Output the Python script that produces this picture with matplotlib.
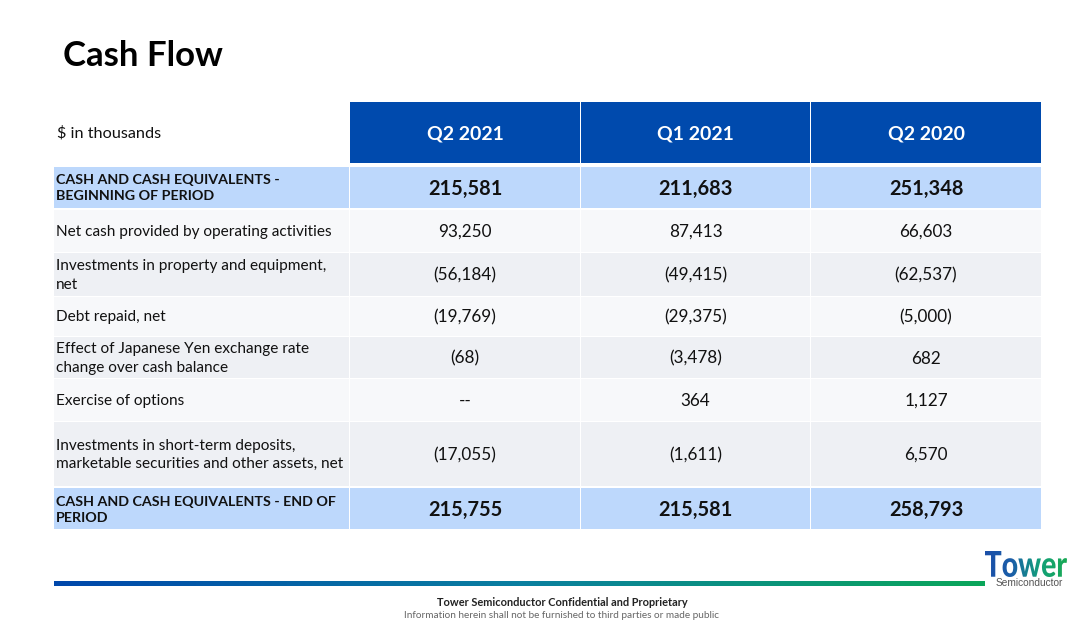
import numpy as np
import matplotlib
matplotlib.use("Agg")
import matplotlib.pyplot as plt
from matplotlib.patches import Rectangle, PathPatch
from matplotlib.textpath import TextPath
from matplotlib.font_manager import FontProperties
from matplotlib.colors import LinearSegmentedColormap
import matplotlib.transforms as mtransforms

plt.rcParams['font.family'] = ['Lato', 'DejaVu Sans']

# table data ($ in thousands)
periods = ["Q2 2021", "Q1 2021", "Q2 2020"]
row_labels = [
    "CASH AND CASH EQUIVALENTS -\nBEGINNING OF PERIOD",
    "Net cash provided by operating activities",
    "Investments in property and equipment,\nnet",
    "Debt repaid, net",
    "Effect of Japanese Yen exchange rate\nchange over cash balance",
    "Exercise of options",
    "Investments in short-term deposits,\nmarketable securities and other assets, net",
    "CASH AND CASH EQUIVALENTS - END OF\nPERIOD",
]
q2_2021 = [215581, 93250, -56184, -19769, -68, None, -17055, 215755]
q1_2021 = [211683, 87413, -49415, -29375, -3478, 364, -1611, 215581]
q2_2020 = [251348, 66603, -62537, -5000, 682, 1127, 6570, 258793]
total_rows = [0, 7]


def fmt(v):
    if v is None:
        return "--"
    if v < 0:
        return f"({-v:,})"
    return f"{v:,}"


W, H = 1080, 625
fig = plt.figure(figsize=(W / 100, H / 100), dpi=100)
ax = fig.add_axes([0, 0, 1, 1])
ax.set_xlim(0, W)
ax.set_ylim(H, 0)
ax.axis('off')

# title
ax.text(63, 56, "Cash Flow", fontsize=25, fontweight='bold', color='#000000',
        va='center', ha='left')

# layout (pixels)
col_x = [(54, 349), (350, 580), (581, 810), (811, 1041)]
row_y = [(167, 208), (210, 252), (253, 296), (297, 336), (337, 378),
         (379, 421), (422, 486), (488, 529)]
head_y = (102, 163)

blue = '#004AAD'
light_blue = '#BDD8FC'
stripe = ['#F7F8FA', '#EEF0F4']

# header
ax.text(57, (head_y[0] + head_y[1]) / 2 + 1, "$ in thousands", fontsize=11.7,
        va='center', ha='left', color='#111111')
for (x0, x1), p in zip(col_x[1:], periods):
    ax.add_patch(Rectangle((x0, head_y[0]), x1 - x0, head_y[1] - head_y[0],
                           color=blue, lw=0))
    ax.text((x0 + x1) / 2, (head_y[0] + head_y[1]) / 2 + 1, p, fontsize=14,
            fontweight='bold', color='white', va='center', ha='center')

cols = [q2_2021, q1_2021, q2_2020]
for i, (y0, y1) in enumerate(row_y):
    is_total = i in total_rows
    fc = light_blue if is_total else stripe[(i - 1) % 2]
    yc = (y0 + y1) / 2
    for (x0, x1) in col_x:
        ax.add_patch(Rectangle((x0, y0), x1 - x0, y1 - y0, color=fc, lw=0))
    ax.text(56, yc + 1, row_labels[i], fontsize=10.3 if is_total else 11.1,
            fontweight='bold' if is_total else 'normal', color='#111111',
            va='center', ha='left', linespacing=1.4)
    for (x0, x1), c in zip(col_x[1:], cols):
        ax.text((x0 + x1) / 2, yc + 1, fmt(c[i]),
                fontsize=14.4 if is_total else 12.3,
                fontweight='bold' if is_total else 'normal', color='#111111',
                va='center', ha='center')

# footer gradient bar
grad_cmap = LinearSegmentedColormap.from_list('bar', ['#0047AB', '#0A7FA0', '#0AA65A'])
ax.imshow(np.linspace(0, 1, 256)[None, :], cmap=grad_cmap, aspect='auto',
          extent=(54, 985, 586, 581), zorder=2)

# logo: "Tower" with gradient fill
fp = FontProperties(family='Lato', weight='black')
tp = TextPath((0, 0), "Tower", size=1, prop=fp)
bb = tp.get_extents()
lx0, lx1, ly_base, lh = 985, 1067, 577, 26
sx = (lx1 - lx0) / bb.width
sy = lh / bb.height
trans = mtransforms.Affine2D().translate(-bb.x0, -bb.y0).scale(sx, -sy).translate(lx0, ly_base)
logo_path = trans.transform_path(tp)
patch = PathPatch(logo_path, facecolor='none', edgecolor='none', transform=ax.transData)
ax.add_patch(patch)
logo_cmap = LinearSegmentedColormap.from_list('logo', ['#1B4FA8', '#1B5FA8', '#12A07A', '#1AAA55'])
im = ax.imshow(np.linspace(0, 1, 256)[None, :], cmap=logo_cmap, aspect='auto',
               extent=(lx0, lx1, ly_base + 1, ly_base - lh - 1), zorder=3)
im.set_clip_path(patch)
ax.text(lx1 - 4, 583, "Semiconductor", fontsize=7.3, color='#555555',
        ha='right', va='center', family='Liberation Sans')

# footer text
ax.text(562, 602, "Tower Semiconductor Confidential and Proprietary", fontsize=7.9,
        fontweight='bold', color='#222222', ha='center', va='center')
ax.text(562, 616, "Information herein shall not be furnished to third parties or made public",
        fontsize=7.2, color='#666666', ha='center', va='center')

ax.set_xlim(0, W)
ax.set_ylim(H, 0)
fig.savefig("out.png", dpi=100)
